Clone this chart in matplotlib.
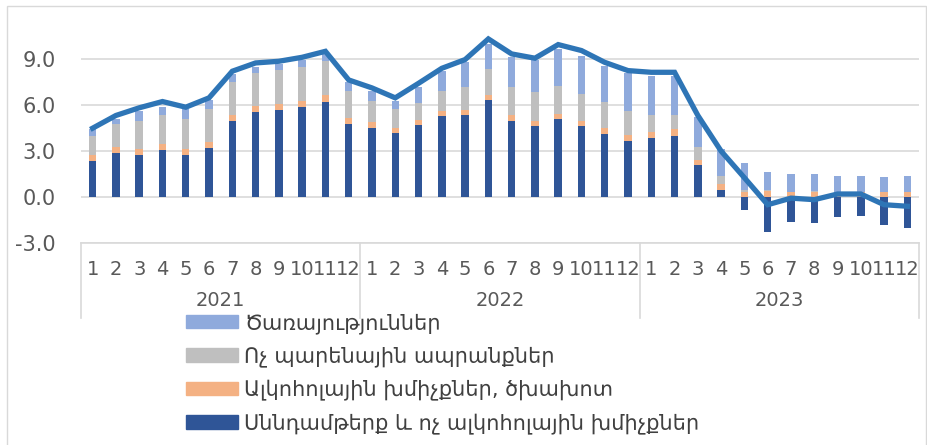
import matplotlib.pyplot as plt
import matplotlib as mpl
from matplotlib.lines import Line2D
from matplotlib.patches import Rectangle, Patch
import numpy as np

years = ['2021', '2022', '2023']
months = [str(m) for m in range(1, 13)] * 3

food = [2.33, 2.87, 2.74, 3.07, 2.74, 3.22, 4.98, 5.57, 5.70, 5.89, 6.24, 4.74,
        4.50, 4.20, 4.72, 5.28, 5.35, 6.33, 4.98, 4.61, 5.07, 4.61, 4.09, 3.67,
        3.85, 4.02, 2.07, 0.46, -0.87, -2.28, -1.61, -1.67, -1.30, -1.26, -1.83, -2.00]
alcohol = [0.45, 0.37, 0.39, 0.39, 0.37, 0.39, 0.39, 0.39, 0.39, 0.41, 0.41, 0.41,
           0.41, 0.32, 0.32, 0.33, 0.35, 0.35, 0.35, 0.37, 0.37, 0.37, 0.41, 0.41,
           0.43, 0.41, 0.36, 0.39, 0.33, 0.39, 0.33, 0.35, 0.28, 0.30, 0.33, 0.33]
nonfood = [1.24, 1.50, 1.87, 1.87, 2.00, 2.13, 2.17, 2.13, 2.24, 2.22, 2.22, 1.81,
           1.39, 1.22, 1.09, 1.35, 1.52, 1.67, 1.83, 1.85, 1.83, 1.78, 1.74, 1.57,
           1.09, 0.96, 0.87, 0.50, 0.13, 0.04, 0.03, 0.03, 0.04, 0.05, 0.02, 0.02]
services = [0.44, 0.37, 0.65, 0.58, 0.65, 0.61, 0.50, 0.43, 0.37, 0.44, 0.48, 0.54,
            0.61, 0.56, 1.09, 1.30, 1.58, 1.65, 1.98, 2.13, 2.41, 2.48, 2.35, 2.46,
            2.56, 2.54, 1.92, 1.80, 1.74, 1.24, 1.17, 1.13, 1.07, 1.04, 0.98, 1.00]
total = [4.50, 5.33, 5.83, 6.24, 5.87, 6.48, 8.22, 8.76, 8.87, 9.13, 9.52, 7.65,
         7.13, 6.48, 7.43, 8.41, 8.98, 10.33, 9.35, 9.07, 9.96, 9.57, 8.80, 8.26,
         8.15, 8.15, 5.33, 3.00, 1.26, -0.50, -0.07, -0.17, 0.20, 0.20, -0.50, -0.60]

names = ['Սննդամթերք և ոչ ալկոհոլային խմիչքներ',
         'Ալկոհոլային խմիչքներ, ծխախոտ',
         'Ոչ պարենային ապրանքներ',
         'Ծառայություններ']
colors = ['#2F5597', '#F4B183', '#BFBFBF', '#8FAADC']
series = [food, alcohol, nonfood, services]

W, H = 928, 445
fig = plt.figure(figsize=(W / 100, H / 100), dpi=100)
fig.patch.set_facecolor('white')
fig.add_artist(Rectangle((7 / W, -0.02), 919 / W, 1 - 6 / H + 0.02, transform=fig.transFigure,
                         fill=False, edgecolor='#D9D9D9', lw=1))

ax = fig.add_axes([81 / W, 1 - 243 / H, 838 / W, 222 / H])
x = np.arange(len(food))
pos = np.zeros(len(x))
neg = np.zeros(len(x))
for vals, c in zip(series, colors):
    v = np.array(vals)
    bottom = np.where(v >= 0, pos, neg)
    ax.bar(x, v, 0.32, bottom=bottom, color=c, zorder=2)
    pos = pos + np.where(v > 0, v, 0)
    neg = neg + np.where(v < 0, v, 0)
ax.plot(x, total, color='#2E75B6', lw=3.8, zorder=3, solid_joinstyle='miter')

ax.set_xlim(-0.5, len(x) - 0.5)
ax.set_ylim(-3, 11.5)
ax.set_yticks([-3, 0, 3, 6, 9])
ax.yaxis.set_major_formatter(mpl.ticker.FormatStrFormatter('%.1f'))
ax.grid(axis='y', color='#D9D9D9', lw=1.2, zorder=0)
for s in ['top', 'right', 'left']:
    ax.spines[s].set_visible(False)
ax.spines['bottom'].set_color('#D9D9D9')
ax.spines['bottom'].set_linewidth(1.2)
ax.tick_params(axis='y', length=0, pad=18, labelsize=15, labelcolor='#595959')
ax.set_xticks(x)
ax.set_xticklabels(months)
ax.tick_params(axis='x', length=0, pad=12, labelsize=14, labelcolor='#595959')

# year group labels and separators
for i, y in enumerate(years):
    ax.text(i * 12 + 5.5, -0.26, y, transform=ax.get_xaxis_transform(), ha='center', va='center',
            fontsize=14, color='#595959')
for b in [-0.5, 11.5, 23.5, 35.5]:
    ax.add_line(Line2D([b, b], [0, -0.34], transform=ax.get_xaxis_transform(), clip_on=False,
                       color='#D9D9D9', lw=1.2))

handles = [Patch(color=c) for c in colors][::-1]
fig.legend(handles, names[::-1], loc='upper left', bbox_to_anchor=(186 / W, 1 - 313 / H),
           frameon=False, fontsize=15, labelcolor='#404040', handlelength=2.5, handleheight=0.6,
           handletextpad=0.3, labelspacing=0.6, borderpad=0, borderaxespad=0)

fig.savefig('out.png', dpi=100)
